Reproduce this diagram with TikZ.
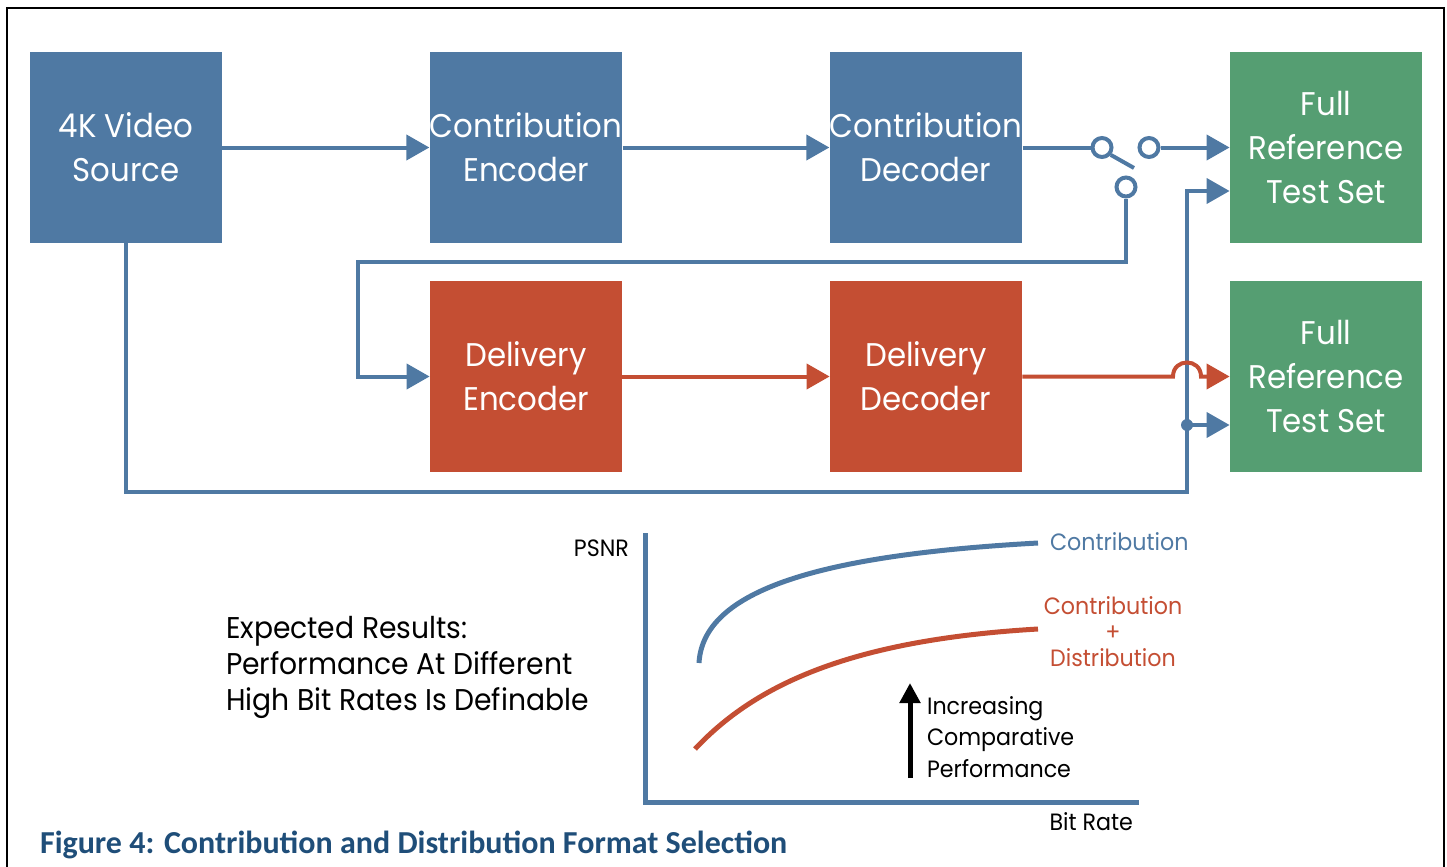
\documentclass[tikz,border=0pt]{standalone}
\usepackage{fontspec}
\newfontfamily\fut[FakeStretch=0.94]{Poppins}
\newfontfamily\capfont{Carlito}
\usetikzlibrary{arrows.meta}
\definecolor{cblue}{HTML}{4F79A3}
\definecolor{cred}{HTML}{C44E33}
\definecolor{cgreen}{HTML}{559E72}
\definecolor{ccap}{HTML}{1F4E79}

\begin{document}
\begin{tikzpicture}[x=0.5pt,y=-0.5pt,
  box/.style={minimum width=96pt,minimum height=95.5pt,inner sep=0pt,align=center,
    text=white,font=\fut\fontsize{16.4}{22}\selectfont},
  bluebox/.style={box,fill=cblue},
  redbox/.style={box,fill=cred},
  greenbox/.style={box,fill=cgreen},
  link/.style={line width=2pt,draw=cblue},
  arr/.style={link,-{Triangle[length=11.5pt,width=12.5pt]}},
  sw/.style={circle,draw=cblue,line width=2pt,fill=white,minimum size=9.5pt,inner sep=0pt},
  chart/.style={font=\fut\fontsize{11.8}{13}\selectfont},
]
\useasboundingbox (0,0) rectangle (1447,867);

% frame
\draw[line width=1pt] (7,867) -- (7,8) -- (1444,8) -- (1444,867);

% processing blocks
\node[bluebox] (src) at (126,147.5) {4K Video\\Source};
\node[bluebox] (ce) at (526,147.5) {Contribution\\Encoder};
\node[bluebox] (cd) at (926,147.5) {Contribution\\Decoder};
\node[greenbox] (f1) at (1326,147.5) {Full\\Reference\\Test Set};
\node[redbox] (de) at (526,376.5) {Delivery\\Encoder};
\node[redbox] (dd) at (926,376.5) {Delivery\\Decoder};
\node[greenbox] (f2) at (1326,376.5) {Full\\Reference\\Test Set};

% switch contacts
\node[sw] (s1) at (1102,147.5) {};
\node[sw] (s2) at (1149,147.5) {};
\node[sw] (s3) at (1126,187) {};
\coordinate (lev) at (1134,168);

% routing points
\coordinate (loopA) at (358,262);
\coordinate (bus) at (1187,492);
\coordinate (j1) at (1187,191);
\coordinate (tap) at (1187,425);
\coordinate (hopL) at (1173,376.5);
\coordinate (hopR) at (1201,376.5);

% contribution chain
\draw[arr] (src) -- (ce);
\draw[arr] (ce) -- (cd);
\draw[link] (cd) -- (s1);
\draw[link] (s1.-40) -- (lev);
\draw[arr] (s2) -- (s2 -| f1.west);
\draw[arr] (s3.south) |- (loopA) |- (de.west);

% reference bypass
\draw[arr] (src.south) |- (bus) -- (j1) -- (j1 -| f1.west);
\fill[cblue] (tap) circle (3pt);
\draw[arr] (tap) -- (tap -| f2.west);

% delivery chain
\draw[arr,draw=cred] (de) -- (dd);
\draw[arr,draw=cred] (dd.east) -- (hopL) .. controls (1173,357.8) and (1201,357.8) .. (hopR) -- (hopR -| f2.west);

% results chart
\coordinate (yTop) at (645,533);
\coordinate (orig) at (645,802);
\coordinate (xEnd) at (1139,802);
\draw[cblue,line width=2.5pt] (yTop) -- (orig) -- (xEnd);
\draw[cblue,line width=2.5pt] (699,663) .. controls (703,590) and (820,555) .. (1038,543);
\draw[cred,line width=2.5pt] (695,749) .. controls (755,685) and (850,640) .. (1038,629);

\node[chart,anchor=east] (psnr) at (636,548) {PSNR};
\node[chart,anchor=east] (brate) at (1140,822) {Bit Rate};
\node[chart,anchor=west,text=cblue] (lblc) at (1043,542) {Contribution};
\node[chart,align=center,text=cred] (lbld) at (1113,632) {Contribution\\+\\Distribution};

\coordinate (upA) at (910,778);
\coordinate (upB) at (910,683);
\draw[line width=2.5pt,-{Triangle[length=10pt,width=10pt]}] (upA) -- (upB);
\node[font=\fut\fontsize{11.8}{15.75}\selectfont,anchor=west,align=left] (incr) at (920,737)
  {Increasing\\Comparative\\Performance};

\node[font=\fut\fontsize{15}{18}\selectfont,anchor=west,align=left] (exp) at (219,667)
  {Expected Results:\\Performance At Different\\High Bit Rates Is Definable};

% caption
\node[anchor=west,text=ccap,font=\capfont\bfseries\fontsize{16}{18}\selectfont] (cap) at (33,845)
  {Figure 4: Contribution and Distribution Format Selection};
\end{tikzpicture}
\end{document}
